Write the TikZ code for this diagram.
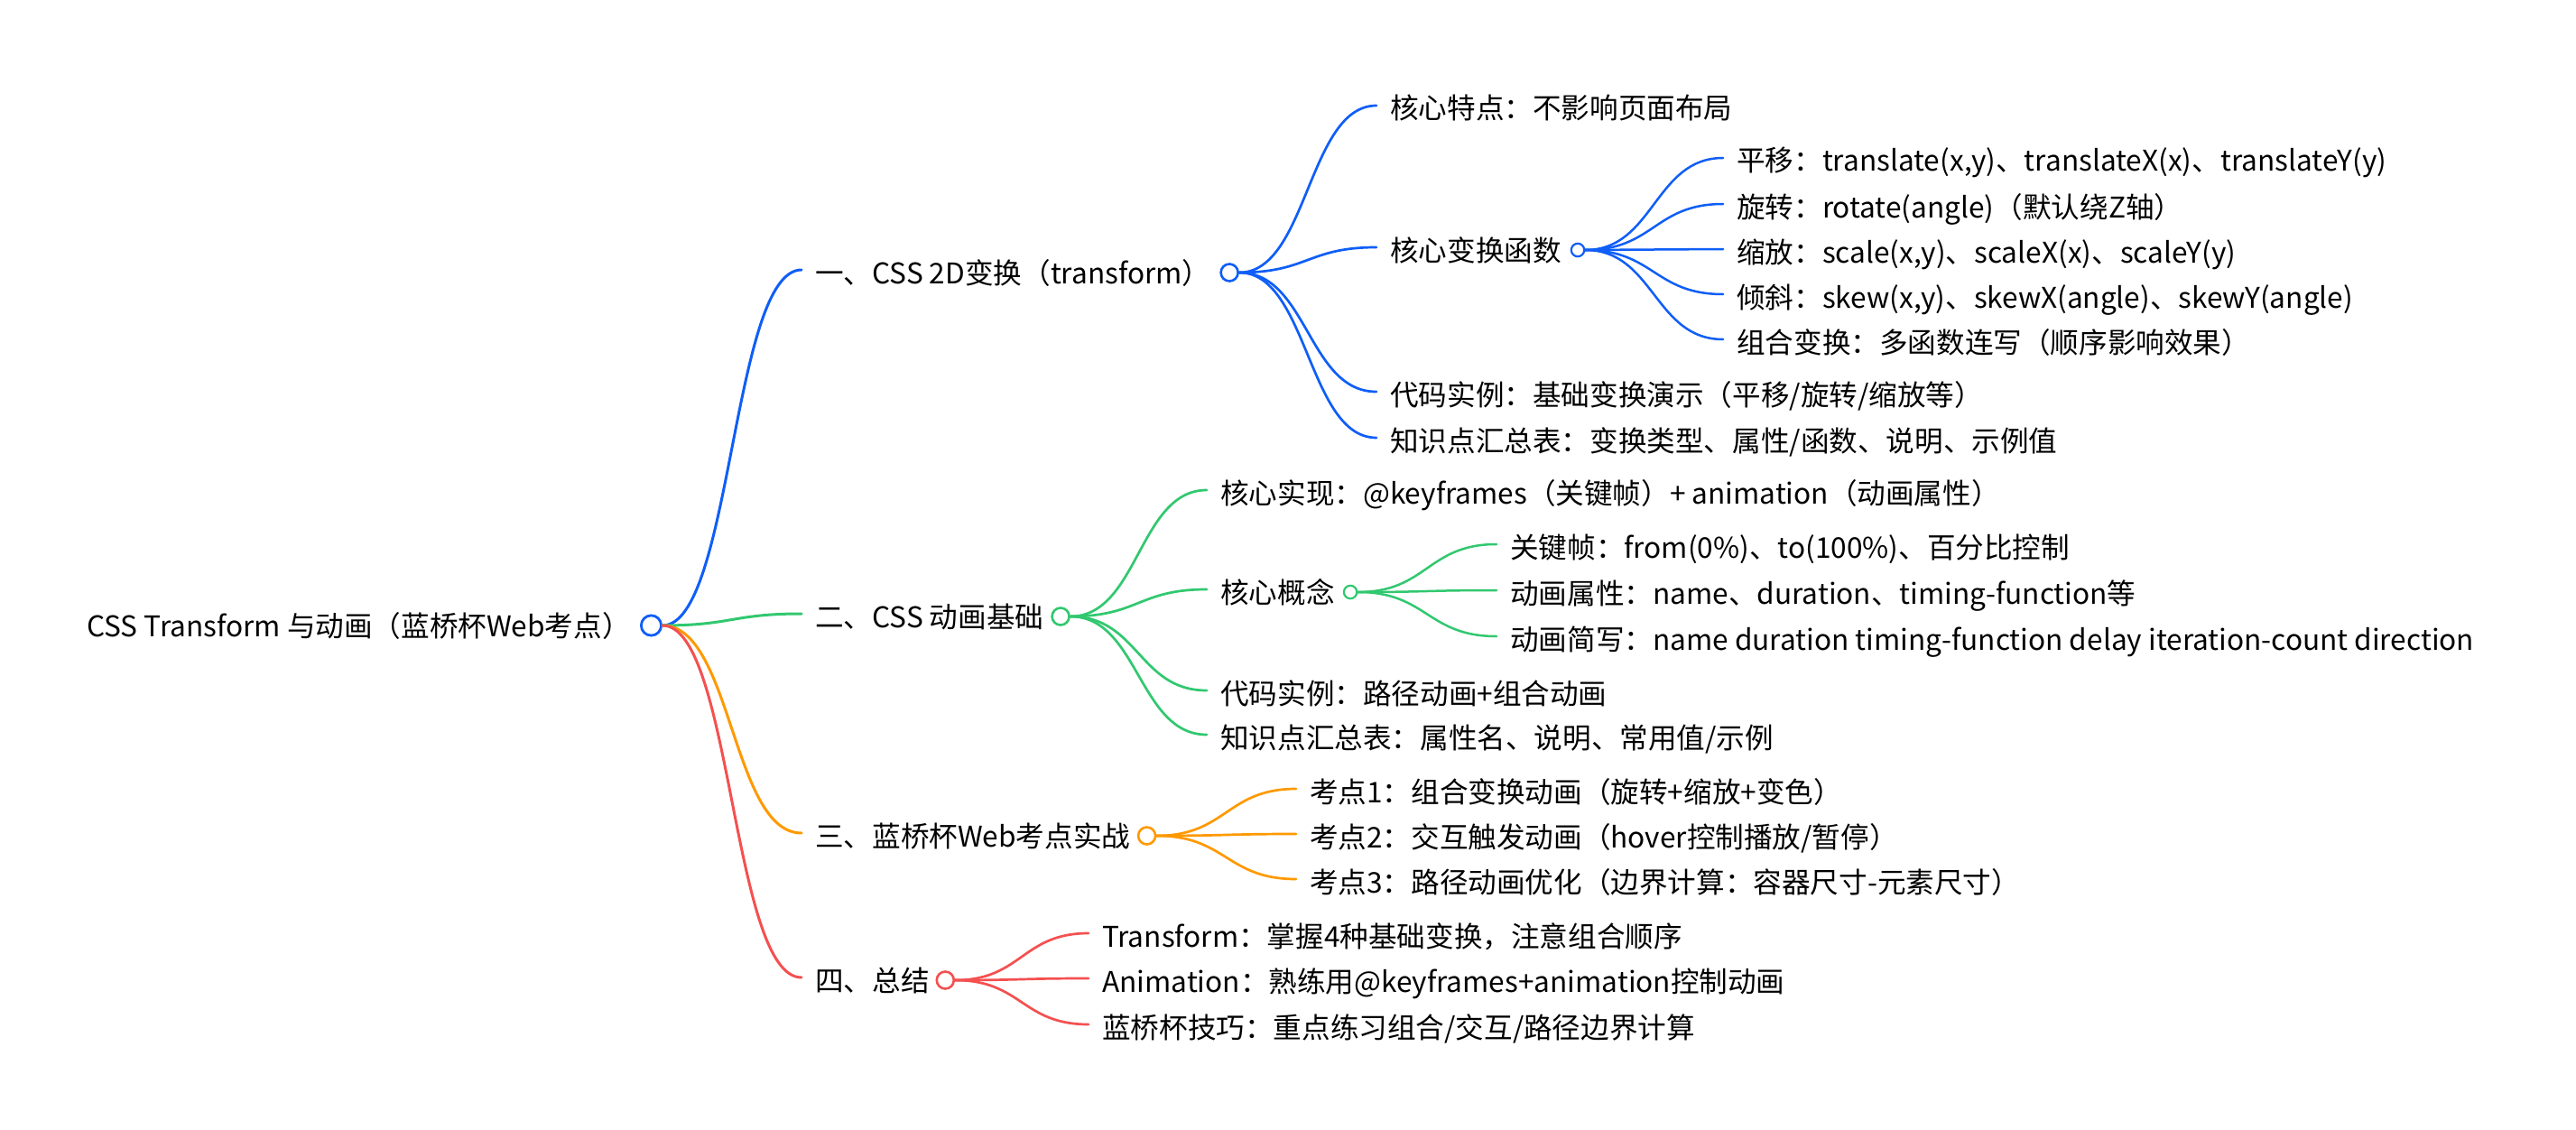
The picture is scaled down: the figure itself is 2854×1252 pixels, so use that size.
\documentclass[tikz,border=0pt]{standalone}
\usepackage{fontspec}
\setmainfont{Noto Sans CJK SC}
\usetikzlibrary{calc}
\definecolor{cB}{HTML}{0F5EF7}
\definecolor{cG}{HTML}{31C86F}
\definecolor{cO}{HTML}{FF9900}
\definecolor{cR}{HTML}{F45050}
\newcommand\mmlink[4]{\draw[#1,line width=#2,line cap=round] let \p1=(#3), \p2=([xshift=-15pt,yshift=3pt]#4.west) in (\p1) .. controls ({(\x1+\x2)/2},\y1) and ({(\x1+\x2)/2},\y2) .. (\p2);}
\begin{document}
\begin{tikzpicture}[x=1pt,y=-1pt,
  txt/.style={anchor=west,inner sep=0pt,font=\fontsize{31.6pt}{38pt}\selectfont,text height=27.8pt,text depth=3.8pt},
  dotA/.style={circle,draw=#1,fill=white,line width=2.8pt,inner sep=0pt,minimum size=22.2pt},
  dotB/.style={circle,draw=#1,fill=white,line width=2.6pt,inner sep=0pt,minimum size=19pt},
  dotC/.style={circle,draw=#1,fill=white,line width=2.2pt,inner sep=0pt,minimum size=14.4pt}]
\fill[white] (0,0) rectangle (2854,1252);
\useasboundingbox (0,0) rectangle (2854,1252);
% root
\node[txt] (r) at (96,693) {CSS Transform 与动画（蓝桥杯Web考点）};
\node[dotA=cB] (rc) at ([xshift=22.5pt]r.east) {};
% level 1
\node[txt] (a) at (903,302) {一、CSS 2D变换（transform）};
\node[dotB=cB] (ac) at ([xshift=20.5pt]a.east) {};
\node[txt] (b) at (903,683) {二、CSS 动画基础};
\node[dotB=cG] (bc) at ([xshift=18.5pt]b.east) {};
\node[txt] (c) at (903,926) {三、蓝桥杯Web考点实战};
\node[dotB=cO] (cc) at ([xshift=18pt]c.east) {};
\node[txt] (d) at (903,1086) {四、总结};
\node[dotB=cR] (dc) at ([xshift=17.5pt]d.east) {};
% branch 1
\node[txt] (a1) at (1540,120) {核心特点：不影响页面布局};
\node[txt] (a2) at (1540,277) {核心变换函数};
\node[dotC=cB] (a2c) at ([xshift=18pt]a2.east) {};
\node[txt] (a3) at (1540,437) {代码实例：基础变换演示（平移/旋转/缩放等）};
\node[txt] (a4) at (1540,488) {知识点汇总表：变换类型、属性/函数、说明、示例值};
\node[txt] (a21) at (1924,178) {平移：translate(x,y)、translateX(x)、translateY(y)};
\node[txt] (a22) at (1924,229) {旋转：rotate(angle)（默认绕Z轴）};
\node[txt] (a23) at (1924,279) {缩放：scale(x,y)、scaleX(x)、scaleY(y)};
\node[txt] (a24) at (1924,329) {倾斜：skew(x,y)、skewX(angle)、skewY(angle)};
\node[txt] (a25) at (1924,379) {组合变换：多函数连写（顺序影响效果）};
% branch 2
\node[txt] (b1) at (1352,546) {核心实现：@keyframes（关键帧）+ animation（动画属性）};
\node[txt] (b2) at (1352,656) {核心概念};
\node[dotC=cG] (b2c) at ([xshift=17.3pt]b2.east) {};
\node[txt] (b3) at (1352,768) {代码实例：路径动画+组合动画};
\node[txt] (b4) at (1352,817) {知识点汇总表：属性名、说明、常用值/示例};
\node[txt] (b21) at (1673,606) {关键帧：from(0\%)、to(100\%)、百分比控制};
\node[txt] (b22) at (1673,657) {动画属性：name、duration、timing-function等};
\node[txt] (b23) at (1673,708) {动画简写：name duration timing-function delay iteration-count direction};
% branch 3
\node[txt] (c1) at (1451,877) {考点1：组合变换动画（旋转+缩放+变色）};
\node[txt] (c2) at (1451,927) {考点2：交互触发动画（hover控制播放/暂停）};
\node[txt] (c3) at (1451,977) {考点3：路径动画优化（边界计算：容器尺寸-元素尺寸）};
% branch 4
\node[txt] (d1) at (1221,1037) {Transform：掌握4种基础变换，注意组合顺序};
\node[txt] (d2) at (1221,1087) {Animation：熟练用@keyframes+animation控制动画};
\node[txt] (d3) at (1221,1138) {蓝桥杯技巧：重点练习组合/交互/路径边界计算};
% links
\mmlink{cB}{3pt}{rc.east}{a}
\mmlink{cG}{3pt}{rc.east}{b}
\mmlink{cO}{3pt}{rc.east}{c}
\mmlink{cR}{3pt}{rc.east}{d}
\mmlink{cB}{2.7pt}{ac.east}{a1}
\mmlink{cB}{2.7pt}{ac.east}{a2}
\mmlink{cB}{2.7pt}{ac.east}{a3}
\mmlink{cB}{2.7pt}{ac.east}{a4}
\mmlink{cB}{2.5pt}{a2c.east}{a21}
\mmlink{cB}{2.5pt}{a2c.east}{a22}
\mmlink{cB}{2.5pt}{a2c.east}{a23}
\mmlink{cB}{2.5pt}{a2c.east}{a24}
\mmlink{cB}{2.5pt}{a2c.east}{a25}
\mmlink{cG}{2.7pt}{bc.east}{b1}
\mmlink{cG}{2.7pt}{bc.east}{b2}
\mmlink{cG}{2.7pt}{bc.east}{b3}
\mmlink{cG}{2.7pt}{bc.east}{b4}
\mmlink{cG}{2.5pt}{b2c.east}{b21}
\mmlink{cG}{2.5pt}{b2c.east}{b22}
\mmlink{cG}{2.5pt}{b2c.east}{b23}
\mmlink{cO}{2.7pt}{cc.east}{c1}
\mmlink{cO}{2.7pt}{cc.east}{c2}
\mmlink{cO}{2.7pt}{cc.east}{c3}
\mmlink{cR}{2.7pt}{dc.east}{d1}
\mmlink{cR}{2.7pt}{dc.east}{d2}
\mmlink{cR}{2.7pt}{dc.east}{d3}
\end{tikzpicture}
\end{document}
